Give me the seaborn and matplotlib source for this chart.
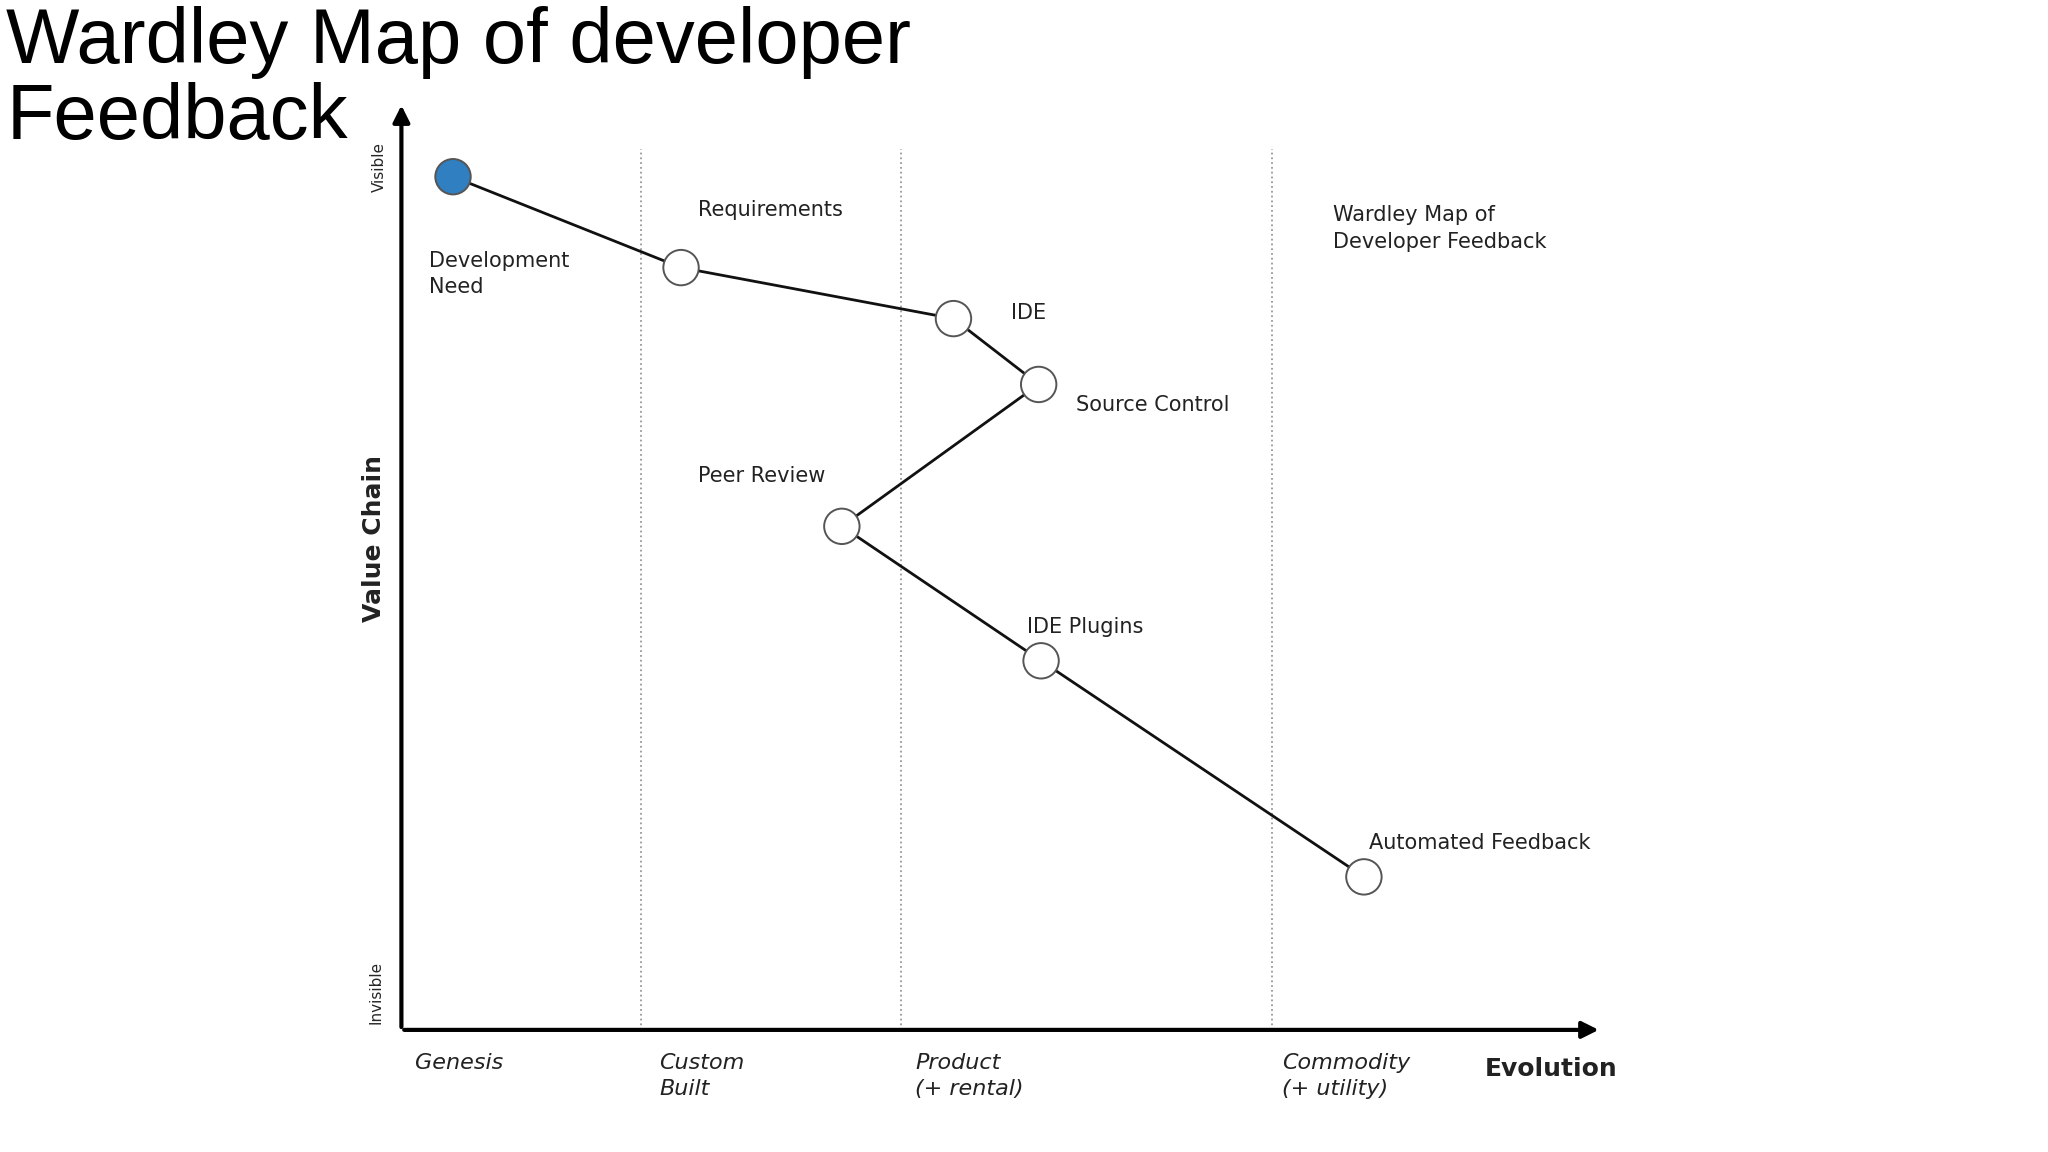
import matplotlib
matplotlib.use("Agg")
import matplotlib.pyplot as plt
import pandas as pd
import seaborn as sns

# component positions (evolution 0..1, visibility 0..1)
components = ["Development\nNeed", "Requirements", "IDE", "Source Control",
              "Peer Review", "IDE Plugins", "Automated Feedback"]
evolution = [0.043, 0.233, 0.460, 0.531, 0.367, 0.533, 0.802]
visibility = [0.920, 0.822, 0.767, 0.696, 0.543, 0.398, 0.165]
stage_bounds = [0.200, 0.416, 0.725]
stages = ["Genesis", "Custom\nBuilt", "Product\n(+ rental)", "Commodity\n(+ utility)"]
stage_x = [0.011, 0.215, 0.428, 0.734]

# label offsets in data units, per component
label_dx = [-0.020, 0.014, 0.048, 0.031, -0.120, -0.012, 0.004]
label_dy = [-0.105, 0.062, 0.006, -0.022, 0.054, 0.036, 0.036]

sns.set_theme(style="white")
plt.rcParams["font.family"] = ["DejaVu Sans"]

df = pd.DataFrame({"evolution": evolution, "visibility": visibility, "name": components})

fig = plt.figure(figsize=(20.48, 11.52), dpi=100)
ax = fig.add_axes([0.196, 0.106, 0.586, 0.805])
ax.set_xlim(0, 1)
ax.set_ylim(0, 1)
for s in ax.spines.values():
    s.set_visible(False)
ax.set_xticks([])
ax.set_yticks([])

for b in stage_bounds:
    ax.plot([b, b], [0, 0.95], color="#999999", linestyle=":", linewidth=1.3)

sns.lineplot(data=df, x="evolution", y="visibility", sort=False, color="#111111",
             linewidth=2, ax=ax, zorder=2)
colors = ["#2f7fc1"] + ["white"] * (len(components) - 1)
ax.scatter(evolution, visibility, s=650, c=colors, edgecolors="#555555",
           linewidths=1.4, zorder=3)
ax.set_xlabel("")
ax.set_ylabel("")

for name, x, y, dx, dy in zip(components, evolution, visibility, label_dx, label_dy):
    ax.text(x + dx, y + dy, name, fontsize=15, ha="left", va="center",
            linespacing=1.4, color="#222222")

ax.text(0.776, 0.864, "Wardley Map of\nDeveloper Feedback", fontsize=15,
        ha="left", va="center", linespacing=1.4, color="#222222")

# axes arrows
ax.annotate("", xy=(1.0, 0), xytext=(0, 0),
            arrowprops=dict(arrowstyle="-|>", color="black", lw=3, mutation_scale=25))
ax.annotate("", xy=(0, 1.0), xytext=(0, 0),
            arrowprops=dict(arrowstyle="-|>", color="black", lw=3, mutation_scale=25))

for name, x in zip(stages, stage_x):
    ax.text(x, -0.025, name, fontsize=16, style="italic", ha="left", va="top",
            linespacing=1.4, color="#222222")
ax.text(0.903, -0.042, "Evolution", fontsize=18, fontweight="bold", ha="left",
        va="center", color="#222222")
ax.text(-0.023, 0.53, "Value Chain", fontsize=18, fontweight="bold", rotation=90,
        ha="center", va="center", color="#222222")
ax.text(-0.018, 0.93, "Visible", fontsize=11, rotation=90, ha="center", va="center")
ax.text(-0.021, 0.04, "Invisible", fontsize=11, rotation=90, ha="center", va="center")

fig.text(0.003, 0.995, "Wardley Map of developer\nFeedback", fontsize=56,
         family=["Liberation Sans", "DejaVu Sans"], color="black",
         ha="left", va="top", linespacing=1.05)

fig.savefig("out.png", dpi=100, facecolor="white")
